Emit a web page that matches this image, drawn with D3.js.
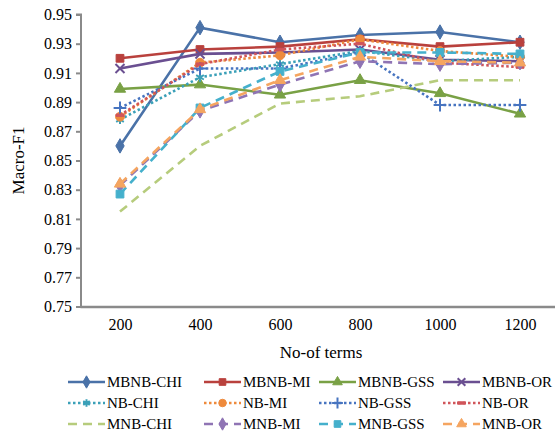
<!DOCTYPE html>
<html>
<head>
<meta charset="utf-8">
<script src="https://cdn.jsdelivr.net/npm/d3@7"></script>
</head>
<body style="margin:0">
<svg id="chart" width="555" height="432"></svg>
<script>
// data
let terms = ['200', '400', '600', '800', '1000', '1200'];
let yTicks = [0.75, 0.77, 0.79, 0.81, 0.83, 0.85, 0.87, 0.89, 0.91, 0.93, 0.95];

let mbnbChi = [0.860, 0.941, 0.931, 0.936, 0.938, 0.931];
let mbnbMi  = [0.920, 0.926, 0.928, 0.933, 0.928, 0.931];
let mbnbGss = [0.899, 0.902, 0.895, 0.905, 0.896, 0.882];
let mbnbOr  = [0.913, 0.923, 0.924, 0.926, 0.919, 0.918];
let nbChi   = [0.878, 0.907, 0.916, 0.925, 0.918, 0.921];
let nbMi    = [0.880, 0.917, 0.922, 0.933, 0.925, 0.921];
let nbGss   = [0.886, 0.913, 0.913, 0.924, 0.888, 0.888];
let nbOr    = [0.881, 0.916, 0.926, 0.930, 0.917, 0.914];
let mnbChi  = [0.815, 0.860, 0.889, 0.894, 0.905, 0.905];
let mnbMi   = [0.833, 0.884, 0.902, 0.918, 0.916, 0.917];
let mnbGss  = [0.827, 0.886, 0.911, 0.924, 0.924, 0.923];
let mnbOr   = [0.834, 0.885, 0.905, 0.921, 0.918, 0.917];

let series = [
    { name: 'MBNB-CHI', values: mbnbChi, color: '#4a72a8', dash: null, marker: 'diamond' },
    { name: 'MBNB-MI', values: mbnbMi, color: '#b9413d', dash: null, marker: 'square' },
    { name: 'MBNB-GSS', values: mbnbGss, color: '#79a145', dash: null, marker: 'triangle' },
    { name: 'MBNB-OR', values: mbnbOr, color: '#6a4f91', dash: null, marker: 'x' },
    { name: 'NB-CHI', values: nbChi, color: '#3aa0b8', dash: '2.5,2.5', marker: 'asterisk' },
    { name: 'NB-MI', values: nbMi, color: '#ee8a3c', dash: '2.5,2.5', marker: 'circle' },
    { name: 'NB-GSS', values: nbGss, color: '#4774c0', dash: '2.5,2.5', marker: 'plus' },
    { name: 'NB-OR', values: nbOr, color: '#d0555a', dash: '2.5,2.5', marker: 'dash' },
    { name: 'MNB-CHI', values: mnbChi, color: '#b6cc7c', dash: '9,6', marker: null },
    { name: 'MNB-MI', values: mnbMi, color: '#8f74b4', dash: '9,6', marker: 'diamond' },
    { name: 'MNB-GSS', values: mnbGss, color: '#45b0cc', dash: '9,6', marker: 'square' },
    { name: 'MNB-OR', values: mnbOr, color: '#f5a560', dash: '9,6', marker: 'triangle' }
];

let svg = d3.select('#chart');
let axisColor = '#8a8a8a';
let serif = "'Liberation Serif'";

let x = d3.scalePoint().domain(terms).range([80, 560]).padding(0.5);
let y = d3.scaleLinear().domain([0.75, 0.95]).range([306.5, 14.5]);

// y axis
let yAxis = svg.append('g')
    .attr('transform', 'translate(81,0)')
    .call(d3.axisLeft(y).tickValues(yTicks).tickSize(5).tickPadding(4).tickFormat(d3.format('.2f')));
yAxis.selectAll('path, line').attr('stroke', axisColor).attr('stroke-width', 2);
yAxis.select('.domain').attr('d', 'M-5,' + y(0.95) + 'H0V' + y(0.75));
yAxis.selectAll('text').style('font-family', serif).style('font-size', '16px').attr('fill', '#000');

// x axis
let xAxis = svg.append('g')
    .attr('transform', 'translate(0,' + y(0.75) + ')')
    .call(d3.axisBottom(x).tickSize(0).tickPadding(12));
xAxis.select('.domain').attr('stroke', axisColor).attr('stroke-width', 2.5);
xAxis.selectAll('text').style('font-family', serif).style('font-size', '16px').attr('fill', '#000');

// axis titles
svg.append('text')
    .attr('x', 321).attr('y', 358)
    .attr('text-anchor', 'middle')
    .style('font-family', serif).style('font-size', '17px')
    .text('No-of terms');
svg.append('text')
    .attr('transform', 'translate(24,' + y(0.85) + ') rotate(-90)')
    .attr('text-anchor', 'middle')
    .style('font-family', serif).style('font-size', '17px')
    .text('Macro-F1');

// marker shapes
function markerPath(type, s) {
    if (type === 'diamond') return d3.symbol(d3.symbolDiamond, s * 1.1)();
    if (type === 'square') return d3.symbol(d3.symbolSquare, s * 1.1)();
    if (type === 'triangle') return d3.symbol(d3.symbolTriangle, s)();
    if (type === 'circle') return d3.symbol(d3.symbolCircle, s * 1.1)();
    if (type === 'x') return d3.symbol(d3.symbolTimes, s)();
    if (type === 'plus') return d3.symbol(d3.symbolPlus, s)();
    if (type === 'asterisk') return d3.symbol(d3.symbolAsterisk, s)();
    if (type === 'dash') return 'M-4,-1.2H4V1.2H-4Z';
    return null;
}
let strokeMarkers = ['x', 'plus', 'asterisk'];

function drawMarker(g, type, color, cx, cy, s) {
    let p = markerPath(type, s);
    if (!p) return;
    let m = g.append('path')
        .attr('d', p)
        .attr('transform', 'translate(' + cx + ',' + cy + ')');
    if (strokeMarkers.indexOf(type) != -1)
        m.attr('fill', 'none').attr('stroke', color).attr('stroke-width', 2);
    else
        m.attr('fill', color).attr('stroke', color).attr('stroke-width', 1);
}

let line = d3.line()
    .x((d, i) => x(terms[i]))
    .y(d => y(d));

// series
let plot = svg.append('g');
series.forEach(s => {
    let g = plot.append('g');
    g.append('path')
        .attr('d', line(s.values))
        .attr('fill', 'none')
        .attr('stroke', s.color)
        .attr('stroke-width', 2.6)
        .attr('stroke-dasharray', s.dash);
    s.values.forEach((v, i) => drawMarker(g, s.marker, s.color, x(terms[i]), y(v), 55));
});

// legend
let legendTextX = [107, 243, 358, 482];
let legendY = [382, 403, 424];
let legend = svg.append('g');
series.forEach((s, i) => {
    let col = i % 4, row = Math.floor(i / 4);
    let tx = legendTextX[col], ty = legendY[row];
    let g = legend.append('g');
    g.append('line')
        .attr('x1', tx - 39).attr('x2', tx - 2)
        .attr('y1', ty).attr('y2', ty)
        .attr('stroke', s.color)
        .attr('stroke-width', 2.6)
        .attr('stroke-dasharray', s.dash);
    drawMarker(g, s.marker, s.color, tx - 20.5, ty, 40);
    g.append('text')
        .attr('x', tx).attr('y', ty)
        .attr('dy', '0.35em')
        .style('font-family', serif).style('font-size', '15px')
        .text(s.name);
});
</script>
</body>
</html>
